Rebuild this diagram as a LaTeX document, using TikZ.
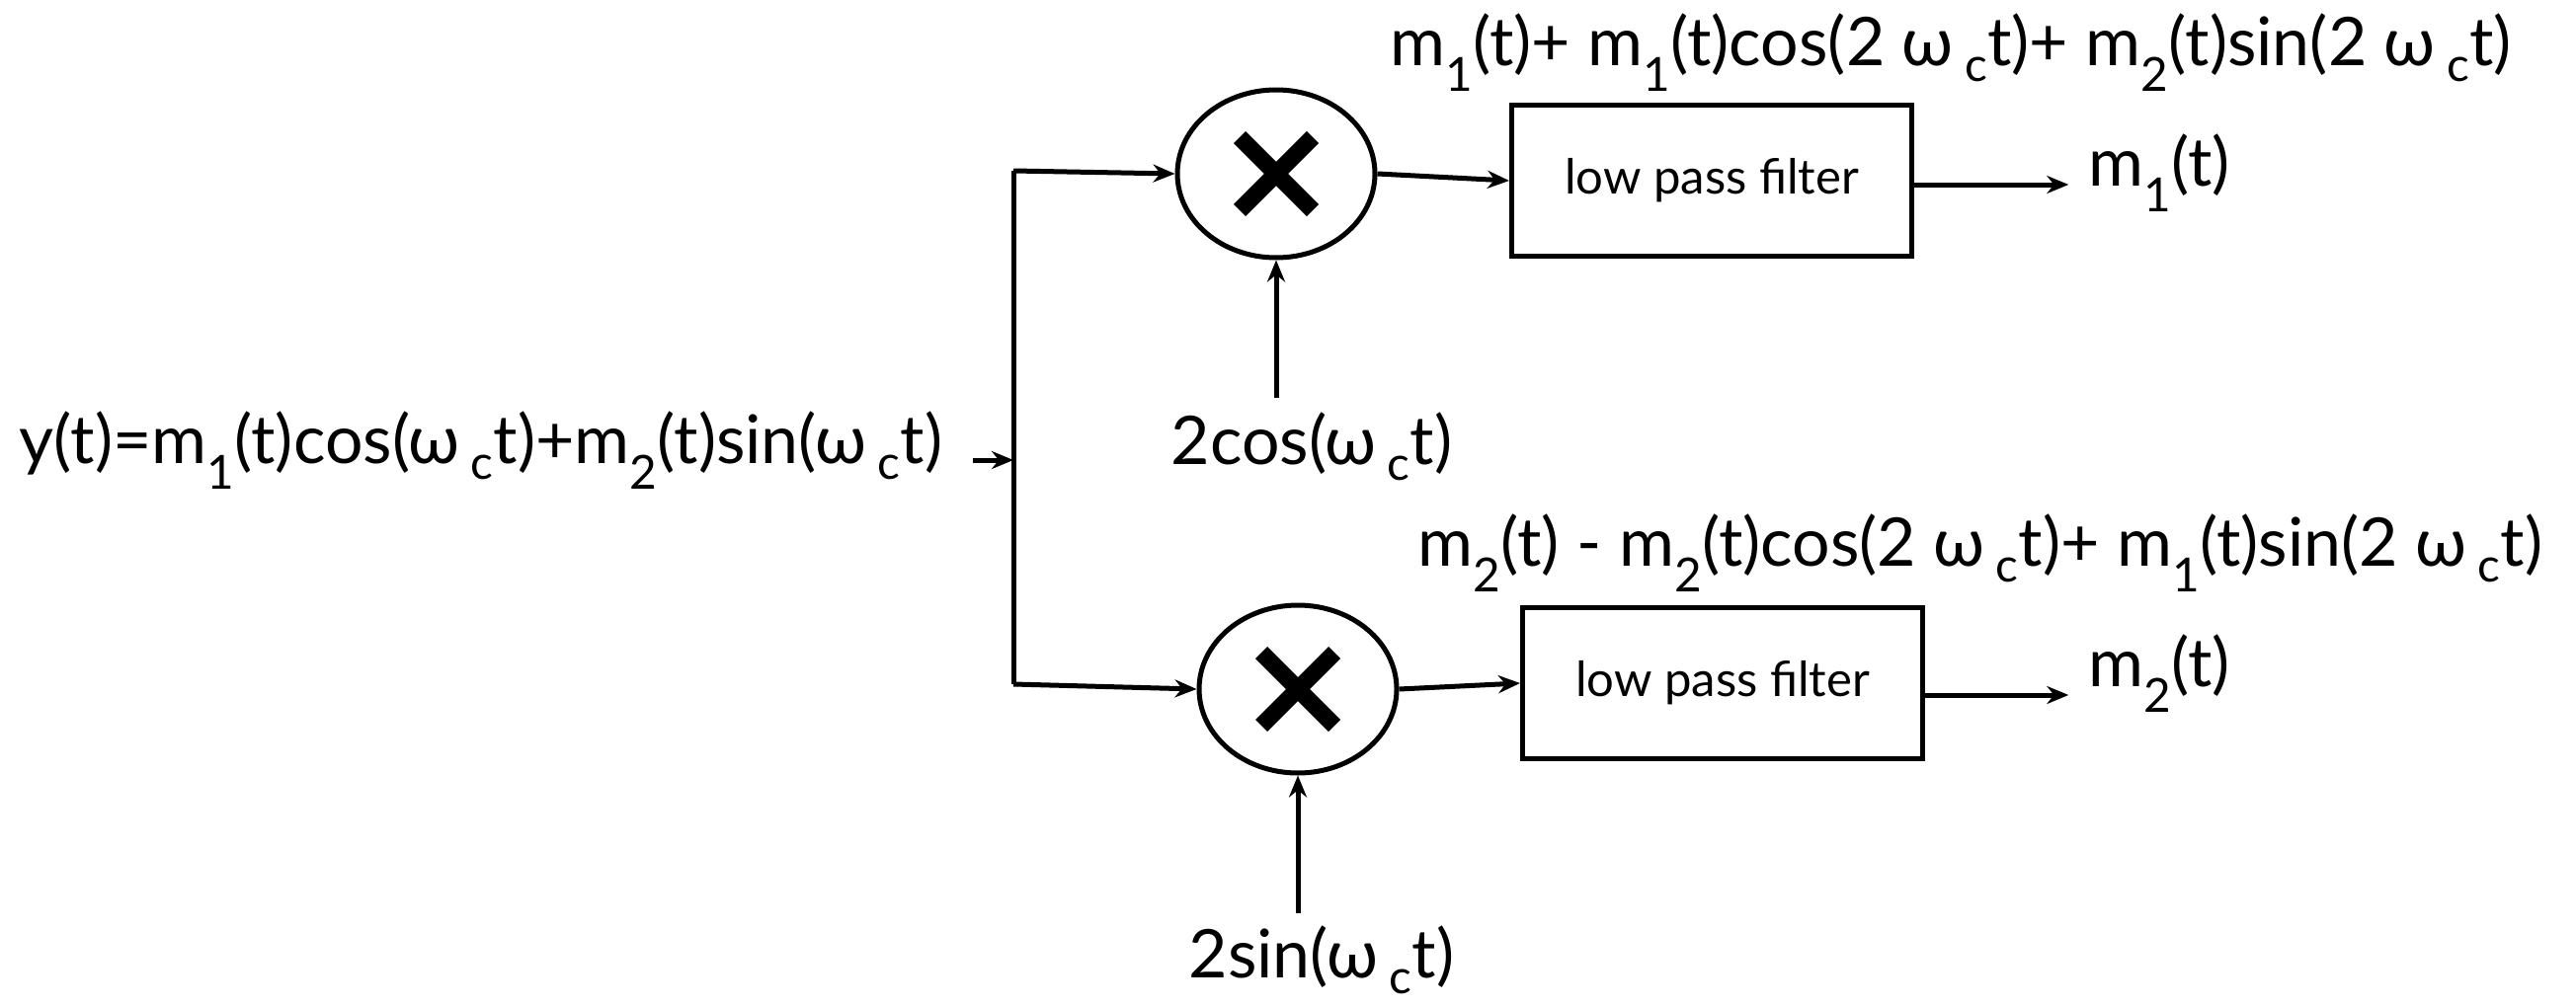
\documentclass[tikz,border=0pt]{standalone}
\usepackage{fontspec}
\setmainfont{Lato}
\usetikzlibrary{arrows.meta,shapes.geometric}
% lowered small index, as in m_1 or omega_c
\newcommand\idx[1]{\textsubscript{#1}}
\newcommand\wc{ω\,\idx{c}t}
\begin{document}
\begin{tikzpicture}[x=1pt,y=-1pt,
  line width=5pt,
  arr/.style={-{Stealth[length=22pt,width=18pt]}},
  lbl/.style={font=\fontsize{68}{76}\selectfont, inner sep=0pt},
  small/.style={font=\fontsize{49}{56}\selectfont, inner sep=0pt},
  mixer/.style={draw, ellipse, minimum width=200pt, minimum height=170pt, inner sep=0pt},
  lpf/.style={draw, rectangle, minimum width=405pt, minimum height=153pt, inner sep=0pt},
  xmark/.style={line width=17pt, line cap=butt}]
\useasboundingbox (0,0) rectangle (2608,1020);

% input signal and the split point
\node[lbl] (in) at (487,456) {y(t)=m\idx{1}(t)cos(\wc)+m\idx{2}(t)sin(\wc)};
\coordinate (tap) at (985,466);
\coordinate (split) at (1026,466);
\coordinate (jt) at (1026,173);
\coordinate (jb) at (1026,693);
\draw[arr] (tap) -- (split);
\draw (jt) -- (jb);

% in-phase branch
\node[mixer] (mx1) at (1292,176) {};
\node[lpf] (f1) at (1733,183) {};
\node[small] at (f1.center) {low pass filter};
\node[lbl, outer sep=20pt] (o1) at (2186,175) {m\idx{1}(t)};
\node[lbl] (e1) at (1975,53) {m\idx{1}(t)+ m\idx{1}(t)cos(2 \wc)+ m\idx{2}(t)sin(2 \wc)};
\node[lbl] (c1) at (1328,452) {2cos(\wc)};
\draw[arr] (jt) -- (mx1.west);
\draw[arr] (mx1.east) -- (f1.west);
\draw[arr] ([yshift=-4]f1.east) -- ([yshift=-4]f1.east -| o1.west);
\draw[arr] (mx1.south |- c1.north) ++(0,-12) -- (mx1.south);

% quadrature branch
\node[mixer] (mx2) at (1314,698) {};
\node[lpf] (f2) at (1744,692) {};
\node[small] at (f2.center) {low pass filter};
\node[lbl, outer sep=20pt] (o2) at (2186,682) {m\idx{2}(t)};
\node[lbl] (e2) at (2005,560) {m\idx{2}(t) - m\idx{2}(t)cos(2 \wc)+ m\idx{1}(t)sin(2 \wc)};
\node[lbl] (c2) at (1338,972) {2sin(\wc)};
\draw[arr] (jb) -- (mx2.west);
\draw[arr] (mx2.east) -- (f2.west);
\draw[arr] ([yshift=-12]f2.east) -- ([yshift=-12]f2.east -| o2.west);
\draw[arr] (mx2.south |- c2.north) ++(0,-10) -- (mx2.south);

% multiplication signs
\foreach \m in {mx1,mx2}{
  \draw[xmark] ([shift={(-37,-37)}]\m.center) -- ([shift={(37,37)}]\m.center);
  \draw[xmark] ([shift={(-37,37)}]\m.center) -- ([shift={(37,-37)}]\m.center);
}
\end{tikzpicture}
\end{document}
